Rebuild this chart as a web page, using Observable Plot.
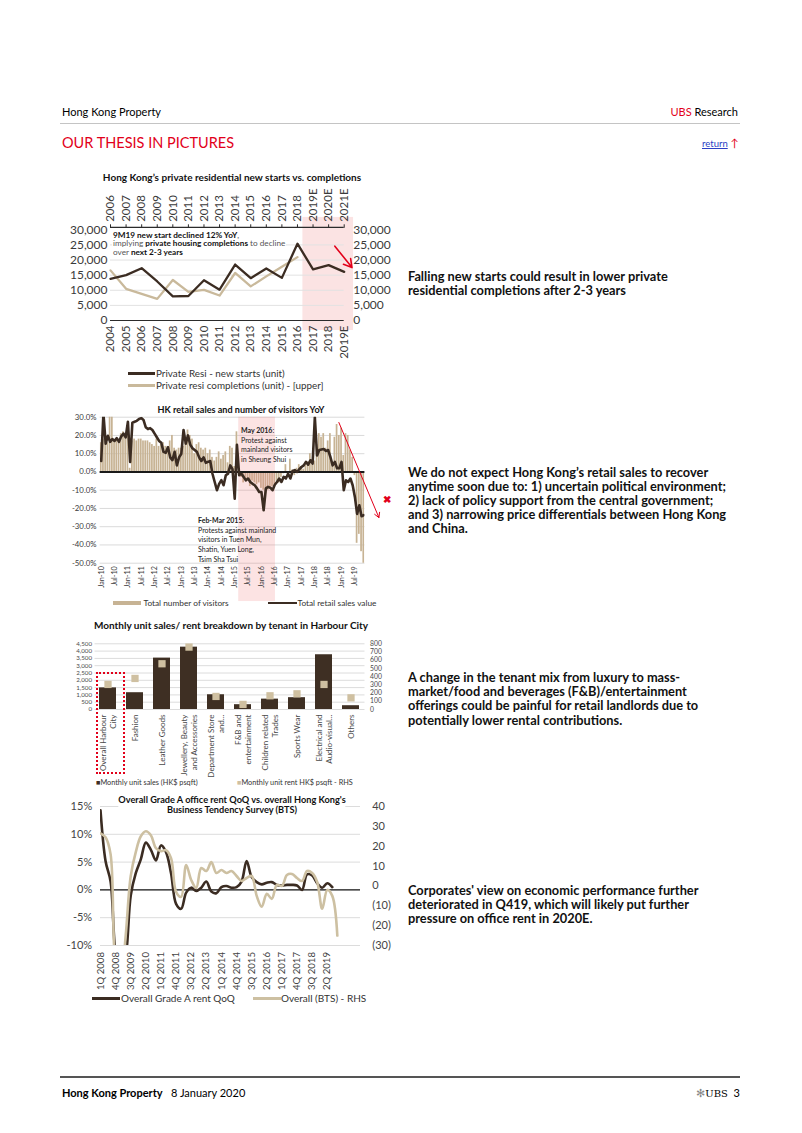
<!DOCTYPE html>
<html><head><meta charset="utf-8">
<script src="https://cdn.jsdelivr.net/npm/d3@7"></script>
<script src="https://cdn.jsdelivr.net/npm/@observablehq/plot@0.6"></script>
<style>
html,body{margin:0;padding:0;background:#fff;}
#page{position:relative;width:802px;height:1133px;overflow:hidden;font-family:Lato,"Noto Sans",sans-serif;color:#000;}
.abs{position:absolute;white-space:nowrap;}
.side{position:absolute;left:408px;font-weight:700;font-size:12.8px;line-height:14.1px;white-space:nowrap;color:#111;}
.ctitle{position:absolute;font-weight:700;color:#111;text-align:center;white-space:nowrap;transform:translateX(-50%);background:#fff;}
.chart{position:absolute;}
.chart svg{overflow:visible;}
.leg{position:absolute;white-space:nowrap;color:#333;}
.sw{position:absolute;}
</style></head><body><div id="page">
  <div class="abs" style="left:62px;top:104px;font-size:11px;line-height:15px;">Hong Kong Property</div>
  <div class="abs" style="right:64px;top:104px;font-size:11px;line-height:15px;"><span style="color:#e2001a">UBS</span> Research</div>
  <div class="abs" style="left:60px;top:123px;width:680px;height:1px;background:#c4c4c4;"></div>
  <div class="abs" style="left:62px;top:133px;font-size:14.5px;line-height:20px;color:#e2001a;">OUR THESIS IN PICTURES</div>
  <div class="abs" style="left:702px;top:137px;font-size:9.5px;line-height:12px;"><span style="color:#2b3fc4;text-decoration:underline;">return</span> <span style="color:#e2001a;font-size:11px;">&#8593;</span></div>

  <div class="ctitle" style="left:232px;top:171px;font-size:10px;line-height:13px;">Hong Kong’s private residential new starts vs. completions</div>
  <div id="c1" class="chart" style="left:60px;top:190px;"></div>
  <div class="abs" style="left:112px;top:230.5px;font-size:8.2px;line-height:8.8px;color:#555;background:#fff;padding:0 1px;">
    <b style="color:#111">9M19 new start declined 12% YoY</b>,<br>implying <b style="color:#111">private housing completions</b> to decline<br>over <b style="color:#111">next 2-3 years</b></div>
  <div class="sw" style="left:128px;top:372px;width:27px;height:2.6px;background:#3b2c22;"></div>
  <div class="leg" style="left:156px;top:366.5px;font-size:9.9px;line-height:13px;">Private Resi - new starts (unit)</div>
  <div class="sw" style="left:128px;top:384px;width:27px;height:2.6px;background:#c9b99b;"></div>
  <div class="leg" style="left:156px;top:378.5px;font-size:9.9px;line-height:13px;">Private resi completions (unit) - [upper]</div>

  <div class="ctitle" style="left:241px;top:404px;font-size:9.1px;line-height:12px;">HK retail sales and number of visitors YoY</div>
  <div id="c2" class="chart" style="left:60px;top:410px;"></div>
  <div class="abs" style="left:241px;top:426px;font-size:7px;line-height:9.7px;color:#222;">
    <b>May 2016</b>:<br>Protest against<br>mainland visitors<br>in Sheung Shui</div>
  <div class="abs" style="left:198px;top:515.8px;font-size:7px;line-height:9.8px;color:#222;">
    <b>Feb-Mar 2015</b>:<br>Protests against mainland<br>visitors in Tuen Mun,<br>Shatin, Yuen Long,<br>Tsim Sha Tsui</div>
  <div class="abs" style="left:383px;top:492px;font-size:10px;line-height:14px;color:#e2001a;font-weight:700;">&#10006;</div>
  <div class="sw" style="left:113px;top:600.5px;width:28px;height:4px;background:#c7b394;"></div>
  <div class="leg" style="left:143.5px;top:596.5px;font-size:8.3px;line-height:12px;">Total number of visitors</div>
  <div class="sw" style="left:268px;top:601.5px;width:29px;height:2.5px;background:#3b2c22;"></div>
  <div class="leg" style="left:297.5px;top:596.5px;font-size:8.3px;line-height:12px;">Total retail sales value</div>

  <div class="ctitle" style="left:231px;top:618.5px;font-size:10px;line-height:13px;">Monthly unit sales/ rent breakdown by tenant in Harbour City</div>
  <div id="c3" class="chart" style="left:55px;top:636px;"></div>
  <div class="abs" style="left:95.5px;top:671.5px;width:25px;height:98px;border:2.2px dotted #e2001a;"></div>
  <div class="leg" style="left:96px;top:777px;font-size:7.3px;line-height:11px;"><span style="color:#3e2f23">&#9632;</span>Monthly unit sales (HK$ psqft)</div>
  <div class="leg" style="left:237px;top:777px;font-size:7.3px;line-height:11px;"><span style="color:#cfc0a1">&#9632;</span>Monthly unit rent HK$ psqft - RHS</div>

  <div id="c4" class="chart" style="left:55px;top:798px;"></div>
  <div class="ctitle" style="left:232px;top:794.5px;font-size:9.2px;line-height:10.8px;">Overall Grade A office rent QoQ vs. overall Hong Kong's<br>Business Tendency Survey (BTS)</div>
  <div class="sw" style="left:92px;top:997px;width:28px;height:2.6px;background:#3b2c22;"></div>
  <div class="leg" style="left:121px;top:991.5px;font-size:10px;line-height:13px;">Overall Grade A rent QoQ</div>
  <div class="sw" style="left:253px;top:997px;width:28px;height:2.6px;background:#cdc0a2;"></div>
  <div class="leg" style="left:281px;top:991.5px;font-size:10px;line-height:13px;">Overall (BTS) - RHS</div>

  <div class="side" style="top:268.5px;">Falling new starts could result in lower private<br>residential completions after 2-3 years</div>
  <div class="side" style="top:464.6px;">We do not expect Hong Kong’s retail sales to recover<br>anytime soon due to: 1) uncertain political environment;<br>2) lack of policy support from the central government;<br>and 3) narrowing price differentials between Hong Kong<br>and China.</div>
  <div class="side" style="top:670.3px;">A change in the tenant mix from luxury to mass-<br>market/food and beverages (F&amp;B)/entertainment<br>offerings could be painful for retail landlords due to<br>potentially lower rental contributions.</div>
  <div class="side" style="top:883px;">Corporates' view on economic performance further<br>deteriorated in Q419, which will likely put further<br>pressure on office rent in 2020E.</div>

  <div class="abs" style="left:60px;top:1076px;width:680px;height:1.5px;background:#555;"></div>
  <div class="abs" style="left:62px;top:1085px;font-size:11px;line-height:15px;"><b>Hong Kong Property</b>&nbsp;&nbsp; 8 January 2020</div>
  <div class="abs" style="right:62px;top:1085px;font-size:11px;line-height:15px;"><span style="color:#888;">&#10043;</span><span style="font-family:'DejaVu Serif',serif;font-size:10px;">UBS</span>&nbsp; 3</div>
</div>
<script>
// ---------- Chart 1 data ----------
const c1Years = [2004,2005,2006,2007,2008,2009,2010,2011,2012,2013,2014,2015,2016,2017,2018,2019];
const c1BottomLabels = ["2004","2005","2006","2007","2008","2009","2010","2011","2012","2013","2014","2015","2016","2017","2018","2019E"];
const c1TopLabels = ["2006","2007","2008","2009","2010","2011","2012","2013","2014","2015","2016","2017","2018","2019E","2020E","2021E"];
const c1Starts = [13800,15000,17300,12900,8000,8100,13300,10200,18500,14000,17200,14100,25400,16900,18300,16100];
const c1CompYears = [2006,2007,2008,2009,2010,2011,2012,2013,2014,2015,2016,2017,2018];
const c1Completions = [16579,10471,8776,7157,13405,9449,10149,8254,15719,11280,14595,17791,20968];
const c1YTicks = [0,5000,10000,15000,20000,25000,30000];
const c1Shade = [{x1:2016.35,x2:2019.6,y1:-3300,y2:34100}];
const c1Arrow = [{x1:2018.4,y1:24600,x2:2019.5,y2:17500}];

// ---------- Chart 2 data (Jan-10 .. Nov-19, monthly YoY %) ----------
const c2Sales = [
  6.0,32.0,15.5,19.8,16.5,18.0,17.0,18.5,16.5,19.5,21.0,19.0,
  27.5,5.5,27.0,27.5,28.0,29.0,29.5,28.5,24.5,23.5,24.0,23.0,
  21.0,19.0,17.0,16.0,11.0,10.5,13.5,8.0,6.5,11.0,3.6,8.0,
  10.0,23.0,15.5,20.0,15.0,13.0,12.0,11.0,8.0,6.0,8.0,5.0,
  5.5,6.0,-1.0,-5.5,-10.0,-6.5,-4.5,-7.3,-1.8,-0.9,3.6,1.5,
  -14.6,14.9,-1.8,-1.0,-2.7,-4.6,-3.6,-5.5,-6.5,-7.3,-9.0,-11.0,
  -11.0,-21.0,-9.0,-8.2,-8.6,-10.0,-7.0,-5.5,-3.6,-5.5,-2.7,-3.6,
  -1.0,-3.6,0.5,1.0,0.0,1.5,2.7,3.6,5.5,4.0,6.4,4.6,
  30.0,9.0,12.0,12.3,12.6,11.5,12.0,8.2,3.6,5.5,2.0,2.0,
  5.5,-10.0,-4.6,-5.5,-3.6,-7.3,-13.7,-23.0,-18.3,-24.3,-23.6
];
const c2Visitors = [
  16,18,17,16,31,32,17,18,17,21,22,20,
  22,2,17,18,17,18,18,17,17,17,16,15,
  14,18,14,15,16,14,14,17,20,13,12,13,
  13,14,16,23,20,18,10,15,16,13,12,13,
  10,12,8,6,8,11,7,9,11,5,14,13,
  3,22,-2,-3,-6,-4,-5,-8,-5,-6,-7,-6,
  -9,-10,-12,-10,-9,-8,-7,-5,-6,-3,-1,4,
  -3,7,1,-2,2,4,3,1.5,4,5.5,10,4,
  6,15,21,19,21,13,17,21,5,19,26,20,
  24,9,21,20,12,8,-2,-39.1,-34.2,-43.7,-55.9
];
const c2XTicks = [0,6,12,18,24,30,36,42,48,54,60,66,72,78,84,90,96,102,108,114];
const c2XLabels = ["Jan-10","Jul-10","Jan-11","Jul-11","Jan-12","Jul-12","Jan-13","Jul-13","Jan-14","Jul-14","Jan-15","Jul-15","Jan-16","Jul-16","Jan-17","Jul-17","Jan-18","Jul-18","Jan-19","Jul-19"];
const c2YTicks = [30,20,10,0,-10,-20,-30,-40,-50];
const c2Shade = [{x1:61.8,x2:78.3,y1:-71,y2:30}];
const c2Arrow = [{x1:106.8,y1:27.1,x2:124.8,y2:-25}];

// ---------- Chart 3 data ----------
const c3Cats = ["Overall Harbour City","Fashion","Leather Goods","Jewellery, Beauty and Accessories","Department Store and...","F&B and entertainment","Children related Trades","Sports Wear","Electrical and Audio-visual...","Others"];
const c3Labels = ["Overall Harbour\nCity","Fashion","Leather Goods","Jewellery, Beauty\nand Accessories","Department Store\nand...","F&B and\nentertainment","Children related\nTrades","Sports Wear","Electrical and\nAudio-visual...","Others"];
const c3Sales = [1480,1150,3520,4270,1010,330,710,810,3750,260];
const c3Rent = [305,378,557,760,159,62,167,191,305,142];
const c3LeftTicks = [0,500,1000,1500,2000,2500,3000,3500,4000,4500];
const c3RightTicks = [0,100,200,300,400,500,600,700,800];

// ---------- Chart 4 data (1Q08 ..) ----------
const c4Rent = [14.3,5.2,1.5,-11.5,-15,-12,-1,3,5.5,8.5,7.2,5.3,8,6.8,3,-2.5,-3.4,-0.5,0.4,-0.2,0.4,1.5,-0.3,-0.6,0.5,0.7,0.4,0.5,1.5,5.2,2.3,1.4,1.0,1.3,1.4,0.9,0.8,0.9,0.9,0.8,0,2.8,2.6,1.2,0.4,1.2,0.5];
const c4Bts = [26.5,24.5,16,-40,-48,-25,5,17,25,27.5,25.5,19,17.5,18,14,-3,-5.5,10.5,3,-1,9,7.5,12,6.5,8,6.5,7.5,5,2.5,4,5,-5,-10.5,-4,-6.5,0.5,0,5.5,6,4,2.5,7.5,6.5,2,-11.5,-2,-5,-25];
const c4XTicks = [0,3,6,9,12,15,18,21,24,27,30,33,36,39,42,45];
const c4XLabels = ["1Q 2008","4Q 2008","3Q 2009","2Q 2010","1Q 2011","4Q 2011","3Q 2012","2Q 2013","1Q 2014","4Q 2014","3Q 2015","2Q 2016","1Q 2017","4Q 2017","3Q 2018","2Q 2019"];
const c4LeftTicks = [15,10,5,0,-5,-10];
const c4RightTicks = [40,30,20,10,0,-10,-20,-30];

const DARK = "#3b2c22", BEIGE = "#c9b99b", TXT = "#3a3a3a";
const baseStyle = {fontFamily: "Lato, 'Noto Sans', sans-serif", color: TXT, background: "transparent", overflow: "visible"};

// ---------- Chart 1 ----------
const c1StartData = c1Years.map((x, i) => ({x, v: c1Starts[i]}));
const c1CompData = c1CompYears.map((y, i) => ({x: y - 2, v: c1Completions[i]}));
document.getElementById("c1").append(Plot.plot({
  width: 340, height: 170,
  marginTop: 39.3, marginBottom: 40, marginLeft: 50, marginRight: 56.3,
  x: {domain: [2004, 2019]},
  y: {domain: [0, 30000]},
  style: {...baseStyle, fontSize: "11.5px"},
  marks: [
    Plot.rect(c1Shade, {x1: "x1", x2: "x2", y1: "y1", y2: "y2", fill: "#fbe3e3"}),
    Plot.ruleY(c1YTicks.filter(d => d > 0 && d < 30000), {stroke: "#e2e2e2"}),
    Plot.ruleY([0], {stroke: "#2b2b2b", strokeWidth: 1.2}),
    Plot.ruleY([30000], {stroke: "#2b2b2b", strokeWidth: 1.2, dy: -2.5}),
    Plot.line(c1CompData, {x: "x", y: "v", stroke: BEIGE, strokeWidth: 2.3}),
    Plot.line(c1StartData, {x: "x", y: "v", stroke: DARK, strokeWidth: 2.3}),
    Plot.arrow(c1Arrow, {x1: "x1", y1: "y1", x2: "x2", y2: "y2", stroke: "#e2001a", strokeWidth: 1.6, headLength: 9}),
    Plot.axisX({anchor: "top", ticks: c1Years, tickFormat: d => c1TopLabels[c1Years.indexOf(d)], tickRotate: -90, tickSize: 3.5, tickPadding: 2, dy: -2.5, label: null, stroke: "#2b2b2b"}),
    Plot.axisX({anchor: "bottom", ticks: c1Years, tickFormat: d => c1BottomLabels[c1Years.indexOf(d)], tickRotate: -90, tickSize: 0, tickPadding: 5, label: null}),
    Plot.axisY({anchor: "left", ticks: c1YTicks, tickFormat: d3.format(","), tickSize: 0, tickPadding: 3, label: null, fontSize: 12}),
    Plot.axisY({anchor: "right", ticks: c1YTicks, tickFormat: d3.format(","), tickSize: 0, tickPadding: 9, label: null, fontSize: 12})
  ]
}));

// ---------- Chart 2 ----------
const c2Data = c2Sales.map((s, i) => ({i, sales: s, vis: c2Visitors[i]}));
document.getElementById("c2").append(Plot.plot({
  width: 335, height: 195,
  marginTop: 6.7, marginBottom: 42.3, marginLeft: 39.6, marginRight: 30.6,
  x: {domain: [-0.5, 118.5]},
  y: {domain: [-50, 30]},
  style: {...baseStyle, fontSize: "7.5px"},
  marks: [
    Plot.ruleY(c2YTicks.filter(d => d !== 0), {stroke: "#dadada"}),
    Plot.rect(c2Data, {x1: d => d.i - 0.5, x2: d => d.i + 0.5, y1: 0, y2: "vis", insetLeft: 0.25, insetRight: 0.25, fill: "#c7b394", clip: true}),
    Plot.rect(c2Shade, {x1: "x1", x2: "x2", y1: "y1", y2: "y2", fill: "#f07f7f", fillOpacity: 0.22}),
    Plot.ruleY([0], {stroke: "#1a1a1a", strokeWidth: 2}),
    Plot.line(c2Data, {x: "i", y: "sales", stroke: DARK, strokeWidth: 2.6, clip: true}),
    Plot.arrow(c2Arrow, {x1: "x1", y1: "y1", x2: "x2", y2: "y2", stroke: "#e2001a", strokeWidth: 1, headLength: 8}),
    Plot.axisY({ticks: c2YTicks, tickFormat: d => d.toFixed(1) + "%", tickSize: 0, tickPadding: 3.6, label: null, fontSize: 7.8}),
    Plot.axisX({ticks: c2XTicks, tickFormat: d => c2XLabels[c2XTicks.indexOf(d)], tickRotate: -90, tickSize: 0, tickPadding: 3, label: null, fontSize: 7.2})
  ]
}));

// ---------- Chart 3 ----------
const c3Data = c3Cats.map((cat, i) => ({cat, sales: c3Sales[i], rent: c3Rent[i]}));
const r2l = v => v * 4500 / 800;
document.getElementById("c3").append(Plot.plot({
  width: 345, height: 136,
  marginTop: 7.3, marginBottom: 63, marginLeft: 39.5, marginRight: 35.5,
  x: {domain: c3Cats, paddingInner: 0.36, paddingOuter: 0.18},
  y: {domain: [0, 4500]},
  style: {...baseStyle, fontSize: "8px", color: "#4a4a4a"},
  marks: [
    Plot.ruleY(c3LeftTicks, {stroke: "#dcdcdc"}),
    Plot.barY(c3Data, {x: "cat", y: "sales", fill: "#3e2f23"}),
    Plot.dot(c3Data, {x: "cat", y: d => r2l(d.rent), symbol: "square", r: 4.1, fill: "#cfc0a1"}),
    Plot.axisY({anchor: "left", ticks: c3LeftTicks, tickFormat: d3.format(","), tickSize: 0, tickPadding: 3, label: null, fontSize: 6.2}),
    Plot.axisY({anchor: "right", ticks: c3RightTicks.map(r2l), tickFormat: d => String(Math.round(d * 800 / 4500)), tickSize: 0, tickPadding: 5, label: null, fontSize: 6.8}),
    Plot.axisX({tickRotate: -90, tickSize: 0, tickPadding: 5, label: null, tickFormat: d => c3Labels[c3Cats.indexOf(d)], lineHeight: 1.2})
  ]
}));

// ---------- Chart 4 ----------
const toLeft = r => -10 + (r + 30) * 25 / 70;
const fromLeft = l => (l + 10) * 70 / 25 - 30;
const c4RentData = c4Rent.map((v, i) => ({i, v}));
const c4BtsData = c4Bts.map((v, i) => ({i, v}));
document.getElementById("c4").append(Plot.plot({
  width: 345, height: 192,
  marginTop: 8, marginBottom: 45, marginLeft: 45, marginRight: 40,
  x: {domain: [0, 51.6]},
  y: {domain: [-10, 15]},
  style: {...baseStyle, fontSize: "11px", color: "#444"},
  marks: [
    Plot.ruleY(c4LeftTicks.filter(d => d !== 0), {stroke: "#dcdcdc"}),
    Plot.ruleY([0], {stroke: "#111", strokeWidth: 1.3}),
    Plot.line(c4RentData, {x: "i", y: "v", curve: "catmull-rom", stroke: DARK, strokeWidth: 2.6, clip: true}),
    Plot.line(c4BtsData, {x: "i", y: d => toLeft(d.v), curve: "catmull-rom", stroke: "#cdc0a2", strokeWidth: 2.6, clip: true}),
    Plot.axisY({anchor: "left", ticks: c4LeftTicks, tickFormat: d => d + "%", tickSize: 0, tickPadding: 8.3, label: null}),
    Plot.axisY({anchor: "right", ticks: c4RightTicks.map(toLeft), tickFormat: d => { const r = Math.round(fromLeft(d)); return r < 0 ? "(" + (-r) + ")" : String(r); }, tickSize: 0, tickPadding: 11.7, label: null}),
    Plot.axisX({ticks: c4XTicks, tickFormat: d => c4XLabels[c4XTicks.indexOf(d)], tickRotate: -90, tickSize: 0, tickPadding: 6.5, label: null, fontSize: 9.6})
  ]
}));
</script></body></html>
